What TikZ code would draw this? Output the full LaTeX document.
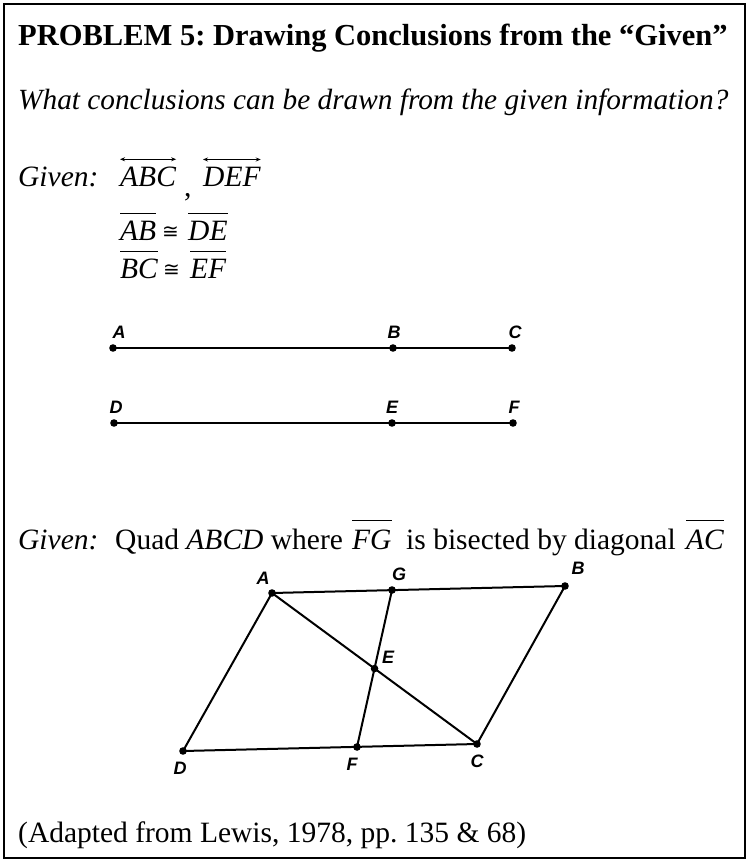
\documentclass[tikz,border=0pt]{standalone}
\usepackage{fontspec}
\setmainfont{Liberation Serif}
\newfontfamily\lblfont{Liberation Sans}
\newfontfamily\congfont{DejaVu Sans}
\usetikzlibrary{arrows.meta,calc}
\frenchspacing
\begin{document}
\begin{tikzpicture}[x=1pt,y=-1pt,
  txt/.style={anchor=base west,inner sep=0pt,font=\fontsize{29.5}{32}\selectfont},
  ittxt/.style={anchor=base west,inner sep=0pt,font=\fontsize{29.5}{32}\selectfont\itshape},
  ttl/.style={anchor=base west,inner sep=0pt,font=\fontsize{30.5}{33}\selectfont\bfseries},
  congtxt/.style={anchor=base west,inner sep=0pt,font=\congfont\fontsize{20}{24}\selectfont},
  lbl/.style={inner sep=0pt,font=\lblfont\bfseries\itshape\fontsize{18}{19}\selectfont},
  seg/.style={line width=2pt},
  bar/.style={line width=1.3pt},
  dblarr/.style={line width=1.1pt,{Stealth[length=5pt,width=4pt]}-{Stealth[length=5pt,width=4pt]}},
  ]
\useasboundingbox (0,0) rectangle (749,862);
\draw[line width=2pt] (4,4) rectangle (745,858);

% title and question
\node[ttl] (title) at (18,45) {PROBLEM 5: Drawing Conclusions from the “Given”};
\node[ittxt,font=\fontsize{29.3}{32}\selectfont\itshape] (question) at (18,109) {What conclusions can be drawn from the given information?};

% first given
\node[ittxt] (given1) at (18,186) {Given:};
\node[ittxt] (abc) at (120,186) {ABC};
\node[txt] (comma) at (184,196) {,};
\node[ittxt] (def) at (203,186) {DEF};
\draw[dblarr] ([yshift=7pt]abc.north west) -- ([yshift=7pt]abc.north east);
\draw[dblarr] ([yshift=7pt]def.north west) -- ([yshift=7pt]def.north east);

\node[ittxt] (ab) at (120,240) {AB};
\node[congtxt] (cong1) at (162,238) {≅};
\node[ittxt] (de) at (188,240) {DE};
\draw[bar] ([yshift=7pt]ab.north west) -- ([yshift=7pt]ab.north east);
\draw[bar] ([yshift=7pt]de.north west) -- ([yshift=7pt]de.north east);

\node[ittxt] (bc) at (120,278) {BC};
\node[congtxt] (cong2) at (163,276) {≅};
\node[ittxt] (ef) at (190,278) {EF};
\draw[bar] ([yshift=7pt]bc.north west) -- ([yshift=7pt]bc.north east);
\draw[bar] ([yshift=7pt]ef.north west) -- ([yshift=7pt]ef.north east);

% segments
\coordinate (sA) at (113,348);
\coordinate (sB) at (393,348);
\coordinate (sC) at (512,348);
\coordinate (sD) at (114,423);
\coordinate (sE) at (392,423);
\coordinate (sF) at (513,423);
\draw[seg] (sA) -- (sC);
\draw[seg] (sD) -- (sF);
\foreach \p in {sA,sB,sC,sD,sE,sF} \fill (\p) circle (3.8);
\node[lbl] (lsA) at (119,332) {A};
\node[lbl] (lsB) at (394,332) {B};
\node[lbl] (lsC) at (515,332) {C};
\node[lbl] (lsD) at (116,407) {D};
\node[lbl] (lsE) at (392,407) {E};
\node[lbl] (lsF) at (514,407) {F};

% second given
\node[ittxt] (given2) at (18,549) {Given:};
\node[txt] (quad) at (115,549) {Quad \textit{ABCD} where};
\node[ittxt] (fg) at (352,549) {FG};
\node[txt] (bis) at (406,549) {is bisected by diagonal};
\node[ittxt] (ac) at (686,549) {AC};
\draw[bar] ([yshift=9pt]fg.north west) -- ([yshift=9pt]fg.north east);
\draw[bar] ([yshift=9pt]ac.north west) -- ([yshift=9pt]ac.north east);

% quadrilateral
\coordinate (qA) at (272,593);
\coordinate (qG) at (392,590);
\coordinate (qB) at (565,586);
\coordinate (qC) at (477,744);
\coordinate (qF) at (357,747);
\coordinate (qD) at (183,751);
\coordinate (qE) at (intersection of qA--qC and qF--qG);
\draw[seg,line join=round] (qA) -- (qB) -- (qC) -- (qD) -- cycle;
\draw[seg] (qA) -- (qC);
\draw[seg] (qF) -- (qG);
\foreach \p in {qA,qB,qC,qD,qE,qF,qG} \fill (\p) circle (3.8);
\node[lbl] (lqA) at (263,578) {A};
\node[lbl] (lqG) at (399,574) {G};
\node[lbl] (lqB) at (578,568) {B};
\node[lbl] (lqE) at (388,657) {E};
\node[lbl] (lqD) at (180,768) {D};
\node[lbl] (lqF) at (352,764) {F};
\node[lbl] (lqC) at (477,761) {C};

% source
\node[txt] (source) at (18,842) {(Adapted from Lewis, 1978, pp. 135 \& 68)};
\end{tikzpicture}
\end{document}
